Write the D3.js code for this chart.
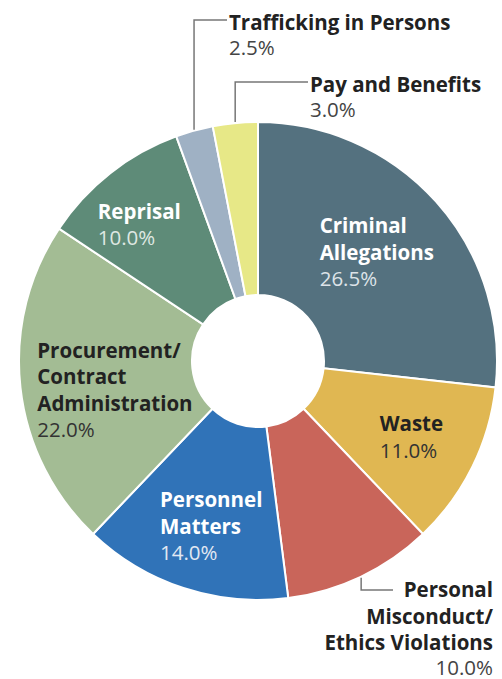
<!DOCTYPE html>
<html>
<head>
<meta charset="utf-8">
<script src="https://d3js.org/d3.v7.min.js"></script>
<style>
  body { margin: 0; background: #fff; }
  text { font-family: "Open Sans", Lato, sans-serif; }
</style>
</head>
<body>
<svg id="chart"></svg>
<script>
// data
var categories = ["Criminal Allegations", "Waste", "Personal Misconduct/ Ethics Violations",
    "Personnel Matters", "Procurement/ Contract Administration", "Reprisal",
    "Trafficking in Persons", "Pay and Benefits"];
var labelLines = [["Criminal", "Allegations"], ["Waste"], ["Personal", "Misconduct/", "Ethics Violations"],
    ["Personnel", "Matters"], ["Procurement/", "Contract", "Administration"], ["Reprisal"],
    ["Trafficking in Persons"], ["Pay and Benefits"]];
var values = [26.5, 11.0, 10.0, 14.0, 22.0, 10.0, 2.5, 3.0];
var colors = ["#54717f", "#e0b752", "#c9655a", "#3073b8", "#a3bc94", "#5e8b78", "#9fb1c4", "#e7e887"];

// label styling / placement (not data)
var textColor = ["#fff", "#222", "#222", "#fff", "#222", "#fff", "#222", "#222"];
var pctColor = ["#dde3e8", "#333", "#444", "#e2e8f2", "#333", "#dfe8e2", "#444", "#444"];
var nudge = [[7, -9], [19, 9], null, [0, 22], [6, 12], [-26, -19], null, null];

var width = 502, height = 679;
var cx = 258, cy = 361, R = 239, r = 66;
var lineH = 26.5;
var fs = 20.5;

var svg = d3.select("#chart").attr("width", width).attr("height", height);
var g = svg.append("g").attr("transform", "translate(" + cx + "," + cy + ")");

var pie = d3.pie().sort(null).value(function (d) { return d; });
var arcs = pie(values);
var arc = d3.arc().innerRadius(r).outerRadius(R);
var labelArc = d3.arc().innerRadius(150).outerRadius(150);

g.selectAll("path.slice")
    .data(arcs)
    .enter().append("path")
    .attr("class", "slice")
    .attr("d", arc)
    .attr("fill", function (d, i) { return colors[i]; })
    .attr("stroke", "#fff")
    .attr("stroke-width", 2);

// inside labels
arcs.forEach(function (d, i) {
    if (!nudge[i]) return;
    var lg = g.append("g");
    var t = lg.append("text").attr("font-size", fs);
    labelLines[i].forEach(function (s, k) {
        t.append("tspan").attr("x", 0).attr("y", k * lineH)
            .attr("font-weight", 700).attr("fill", textColor[i]).text(s);
    });
    t.append("tspan").attr("x", 0).attr("y", labelLines[i].length * lineH)
        .attr("font-weight", 400).attr("fill", pctColor[i])
        .text(values[i].toFixed(1) + "%");
    var bb = t.node().getBBox();
    var c = labelArc.centroid(d);
    var tx = c[0] + nudge[i][0] - (bb.x + bb.width / 2);
    var ty = c[1] + nudge[i][1] - (bb.y + bb.height / 2);
    lg.attr("transform", "translate(" + tx + "," + ty + ")");
});

// outside labels with leader lines
function edgePoint(d) {
    var a = (d.startAngle + d.endAngle) / 2;
    return [Math.sin(a) * (R + 1), -Math.cos(a) * (R + 1)];
}
var lead = g.append("g").attr("fill", "none").attr("stroke", "#777").attr("stroke-width", 1.5);

// Trafficking in Persons, Pay and Benefits: line up, then right to the label
[[6, 20 - cy, 227 - cx], [7, 82 - cy, 308 - cx]].forEach(function (o) {
    var i = o[0], p = edgePoint(arcs[i]);
    lead.append("path").attr("d", d3.line()([p, [p[0], o[1]], [o[2], o[1]]]));
    var t = g.append("text").attr("font-size", fs).attr("x", o[2] + 2).attr("y", o[1] + 10);
    t.append("tspan").attr("font-weight", 700).attr("fill", textColor[i]).text(labelLines[i][0]);
    t.append("tspan").attr("x", o[2] + 2).attr("dy", 25).attr("font-weight", 400)
        .attr("fill", pctColor[i]).text(values[i].toFixed(1) + "%");
});

// Personal Misconduct: line down, then right, label right aligned
(function () {
    var i = 2, p = edgePoint(arcs[i]);
    var ly = 590 - cy;
    lead.append("path").attr("d", d3.line()([p, [p[0], ly], [393 - cx, ly]]));
    var t = g.append("text").attr("font-size", fs).attr("text-anchor", "end");
    var rx = 493 - cx;
    labelLines[i].forEach(function (s, k) {
        t.append("tspan").attr("x", rx).attr("y", ly + 7 + k * lineH)
            .attr("font-weight", 700).attr("fill", textColor[i]).text(s);
    });
    t.append("tspan").attr("x", rx).attr("y", ly + 5 + labelLines[i].length * lineH)
        .attr("font-weight", 400).attr("fill", pctColor[i]).text(values[i].toFixed(1) + "%");
})();
</script>
</body>
</html>
